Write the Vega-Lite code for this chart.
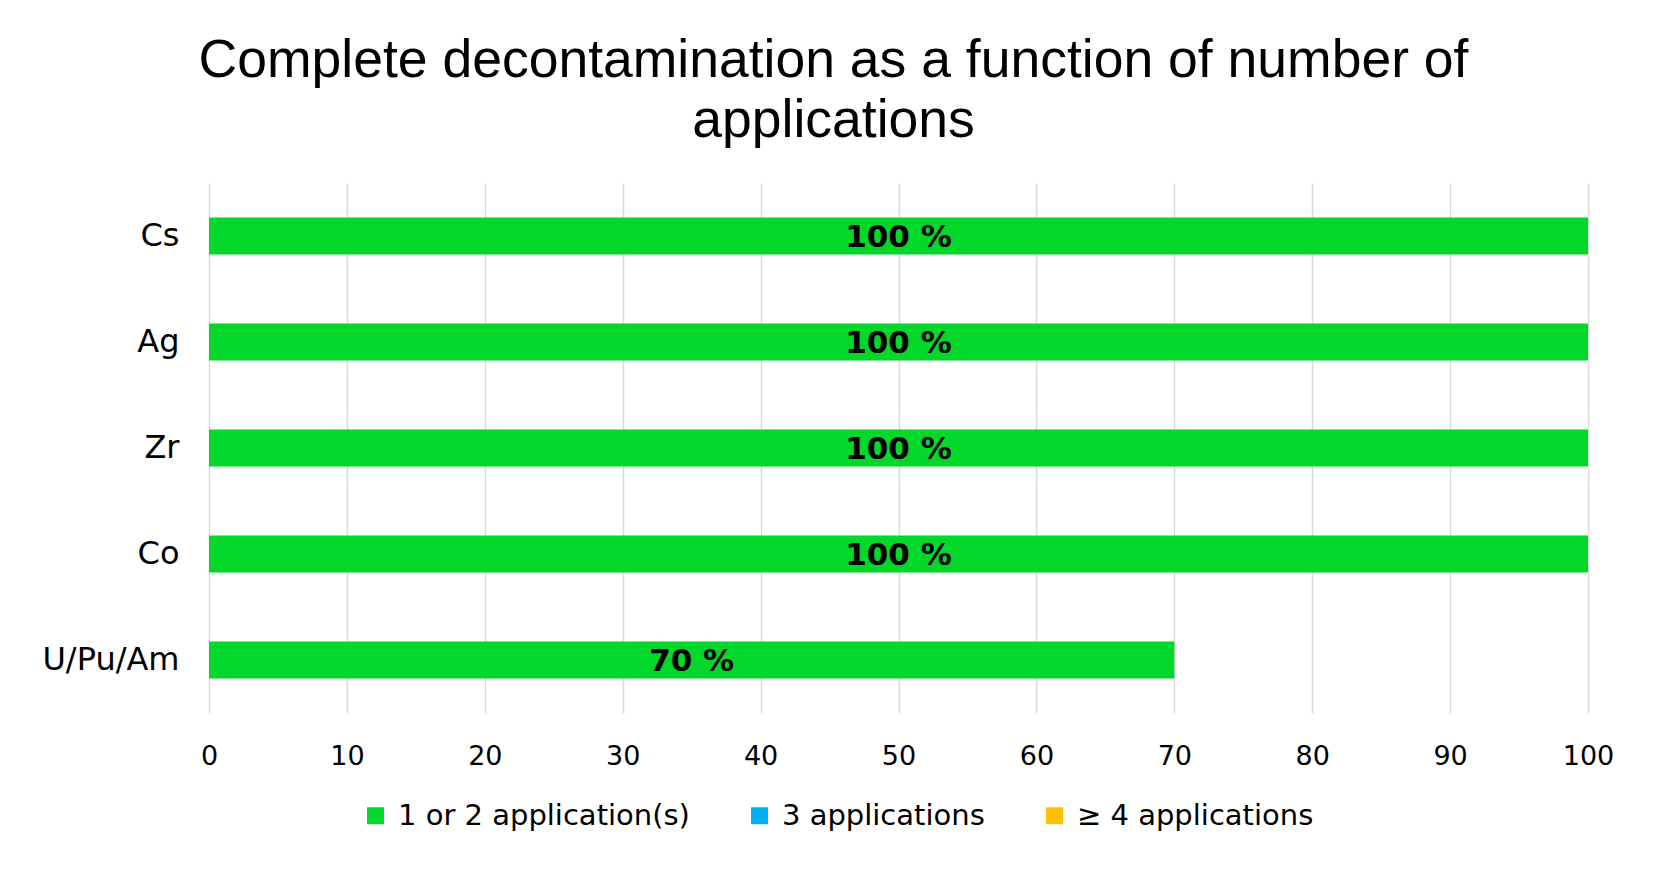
{
  "$schema": "https://vega.github.io/schema/vega-lite/v6.json",
  "width": 1379,
  "height": 530,
  "autosize": {"type": "none"},
  "padding": {"left": 209, "top": 183, "right": 78, "bottom": 165},
  "background": "white",
  "title": {
    "text": ["Complete decontamination as a function of number of", "applications"],
    "font": "Liberation Sans",
    "fontSize": 53.5,
    "fontWeight": "normal",
    "color": "#000000",
    "lineHeight": 60,
    "anchor": "middle",
    "frame": "group",
    "dx": -65,
    "offset": 35
  },
  "data": {
    "values": [
      {"element": "Cs", "applications": "1 or 2 application(s)", "value": 100},
      {"element": "Ag", "applications": "1 or 2 application(s)", "value": 100},
      {"element": "Zr", "applications": "1 or 2 application(s)", "value": 100},
      {"element": "Co", "applications": "1 or 2 application(s)", "value": 100},
      {"element": "U/Pu/Am", "applications": "1 or 2 application(s)", "value": 70}
    ]
  },
  "encoding": {
    "y": {
      "field": "element",
      "type": "nominal",
      "sort": ["Cs", "Ag", "Zr", "Co", "U/Pu/Am"],
      "scale": {"paddingInner": 0.65, "paddingOuter": 0.325},
      "axis": {
        "title": null,
        "domain": false,
        "ticks": false,
        "grid": false,
        "labelFont": "DejaVu Sans",
        "labelFontSize": 32,
        "labelColor": "#000000",
        "labelPadding": 30,
        "labelLimit": 0
      }
    }
  },
  "layer": [
    {
      "mark": {"type": "bar"},
      "encoding": {
        "x": {
          "field": "value",
          "type": "quantitative",
          "stack": "zero",
          "scale": {"domain": [0, 100], "nice": false},
          "axis": {
            "title": null,
            "values": [0, 10, 20, 30, 40, 50, 60, 70, 80, 90, 100],
            "domain": false,
            "ticks": false,
            "grid": true,
            "gridColor": "#D9D9D9",
            "gridWidth": 1.5,
            "labelFont": "DejaVu Sans",
            "labelFontSize": 27,
            "labelColor": "#000000",
            "labelPadding": 30,
            "labelFlush": false
          }
        },
        "color": {
          "field": "applications",
          "type": "nominal",
          "scale": {
            "domain": ["1 or 2 application(s)", "3 applications", "≥ 4 applications"],
            "range": ["#02D72A", "#00B0F0", "#FFC000"]
          },
          "legend": {
            "title": null,
            "orient": "none",
            "direction": "horizontal",
            "legendX": 152,
            "legendY": 618,
            "symbolType": "square",
            "symbolSize": 289,
            "symbolStrokeWidth": 0,
            "labelFont": "DejaVu Sans",
            "labelFontSize": 29,
            "labelColor": "#000000",
            "labelOffset": 8,
            "labelLimit": 0,
            "columnPadding": 55,
            "padding": 0
          }
        }
      }
    },
    {
      "transform": [
        {"calculate": "datum.value / 2", "as": "mid"},
        {"calculate": "datum.value + ' %'", "as": "label"}
      ],
      "mark": {
        "type": "text",
        "font": "DejaVu Sans",
        "fontWeight": "bold",
        "fontSize": 31,
        "color": "#000000",
        "baseline": "middle",
        "align": "center",
        "dy": 2
      },
      "encoding": {
        "x": {"field": "mid", "type": "quantitative"},
        "text": {"field": "label", "type": "nominal"}
      }
    }
  ],
  "config": {
    "view": {"stroke": null}
  }
}
